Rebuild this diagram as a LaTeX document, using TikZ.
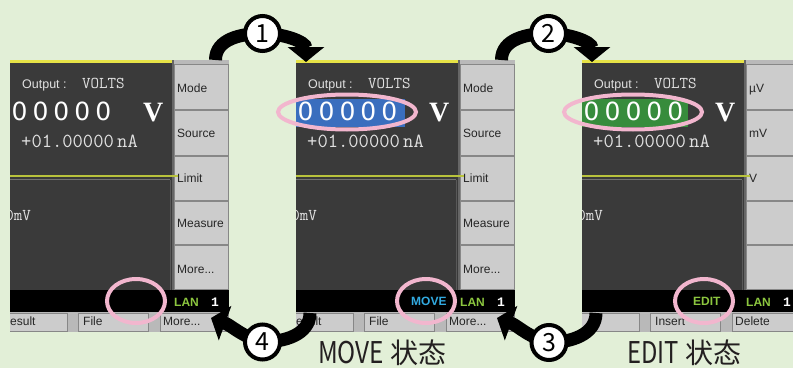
\documentclass[tikz,border=0pt]{standalone}
\usepackage{graphicx}
\usepackage{fontspec}
\setmainfont{Liberation Sans}
\newfontfamily\monob{Liberation Mono}
\newfontfamily\seriff{Liberation Serif}
\newfontfamily\dejav{DejaVu Sans}
\newfontfamily\cjk{Noto Sans CJK SC}
\usetikzlibrary{arrows.meta}

\definecolor{bg}{RGB}{226,239,215}
\definecolor{scr}{RGB}{58,58,58}
\definecolor{ylw}{RGB}{230,226,70}
\definecolor{ylg}{RGB}{185,195,60}
\definecolor{keyg}{RGB}{204,204,204}
\definecolor{keycol}{RGB}{185,185,185}
\definecolor{keyd}{RGB}{135,135,135}
\definecolor{lang}{RGB}{140,198,63}
\definecolor{movec}{RGB}{50,170,225}
\definecolor{hlblue}{RGB}{58,110,190}
\definecolor{hlgreen}{RGB}{55,140,60}
\definecolor{pinkr}{RGB}{242,182,206}
\definecolor{txtg}{RGB}{225,225,225}
\definecolor{labc}{RGB}{35,31,32}

\tikzset{
  lbl/.style={inner sep=0pt, anchor=base west},
  keytxt/.style={lbl, font=\fontsize{12}{12}\selectfont, text=black!85},
  mono/.style={lbl, font=\ttfamily\fontsize{16.5}{16.5}\selectfont, text=txtg},
  ring/.style={draw=pinkr, line width=4pt},
  bigarrow/.style={line width=13pt, -{Triangle[width=36pt,length=15pt]}},
  numcirc/.style={circle, draw=black, line width=4pt, fill=white, minimum size=35pt,
    inner sep=0pt, font=\cjk\fontsize{25}{25}\selectfont},
  keybox/.style={fill=keyg, draw=keyd, line width=0.8pt},
  btnbox/.style={fill=keyg, draw=keyd, line width=0.8pt},
  bigdig/.style={lbl, font=\dejav\fontsize{25}{25}\selectfont, text=white},
  stat/.style={lbl, font=\bfseries\fontsize{12}{12}\selectfont},
  caption/.style={lbl, font=\cjk\fontsize{28}{28}\selectfont, text=labc},
}

% #1 prefix, #2-#6 softkey labels, #7-#9 button labels
\newcommand\ScreenBase[9]{%
  \fill[scr] (10,78) rectangle (172,308);
  \fill[ylw] (10,305) rectangle (172,308);
  \fill[keycol] (172,78) rectangle (229,308);
  \foreach \ya/\yb in {304/258, 258/212, 212/167, 167/123, 123/78}
    \draw[keybox] (174,\yb+0.5) rectangle (228,\ya-0.5);
  \draw[black!60, line width=1.5pt] (172.75,78) -- (172.75,308);
  \node[keytxt] (#1k1) at (177,276) {#2};
  \node[keytxt] (#1k2) at (177,231) {#3};
  \node[keytxt] (#1k3) at (177,186) {#4};
  \node[keytxt] (#1k4) at (177,141) {#5};
  \node[keytxt] (#1k5) at (177,95) {#6};
  \draw[ylg, line width=1.6pt] (10,192) -- (178,192);
  \draw[black!55, line width=1.5pt] (10,188.5) -- (170,188.5);
  \draw[black!65, line width=1pt] (170.5,78) -- (170.5,188);
  \node[lbl, font=\fontsize{12.5}{12.5}\selectfont, text=txtg] (#1out) at (22,280) {Output :};
  \node[mono] (#1volts) at (82,280) {VOLTS};
  \node[lbl, font=\seriff\bfseries\fontsize{28}{28}\selectfont, text=white] (#1v) at (143,247) {V};
  \node[lbl, font=\ttfamily\fontsize{20}{20}\selectfont, text=txtg] (#1na) at (21,221) {+01.00000\,nA};
  \node[mono, anchor=base east] (#1mv) at (31,148) {0mV};
  \fill[black] (10,56) rectangle (229,78);
  \node[stat, text=lang] (#1lan) at (174,62) {LAN};
  \node[lbl, font=\monob\bfseries\fontsize{13}{13}\selectfont, text=white] (#1one) at (211,62) {1};
  \fill[keycol] (10,36) rectangle (229,56);
  \draw[btnbox] (0,37) rectangle (67,55);
  \draw[btnbox] (78,37) rectangle (148,55);
  \draw[btnbox] (160,37) rectangle (228,55);
  \node[keytxt] (#1b1) at (1.3,43) {#7};
  \node[keytxt] (#1b2) at (83,43) {#8};
  \node[keytxt] (#1b3) at (163,43) {#9};
}
\newcommand\BigDigits[1]{%
  \node[bigdig] (#1dig) at (11.5,248) {0\kern5pt0\kern5pt0\kern5pt0\kern5pt0};}

\begin{document}
\begin{tikzpicture}[x=1pt,y=1pt]
\useasboundingbox (0,0) rectangle (793,368);
\fill[bg] (0,0) rectangle (793,368);

% screen 1
\begin{scope}
  \clip (10,36) rectangle (229,308);
  \ScreenBase{sa}{Mode}{Source}{Limit}{Measure}{More...}{Result}{File}{More...}
  \BigDigits{sa}
\end{scope}
% screen 2
\begin{scope}[shift={(286,0)}]
  \clip (10,36) rectangle (229,308);
  \ScreenBase{sb}{Mode}{Source}{Limit}{Measure}{More...}{Result}{File}{More...}
  \fill[hlblue] (10,241) rectangle (119,269);
  \BigDigits{sb}
  \node[stat, text=movec] (sbmove) at (125,63) {MOVE};
\end{scope}
% screen 3
\begin{scope}[shift={(572,0)}]
  \clip (10,36) rectangle (221,308);
  \ScreenBase{sc}{µV}{mV}{V}{}{}{}{Insert}{Delete}
  \fill[hlgreen] (10,241) rectangle (116,269);
  \BigDigits{sc}
  \node[stat, text=lang] (scedit) at (121,63) {EDIT};
\end{scope}

% pink rings
\draw[ring] (136,67) ellipse [x radius=29, y radius=22];
\draw[ring] (347,256) ellipse [x radius=69, y radius=17.5];
\draw[ring] (426,67) ellipse [x radius=29, y radius=22];
\draw[ring] (633,256) ellipse [x radius=69, y radius=17.5];
\draw[ring] (704,67) ellipse [x radius=29, y radius=22];

% arrows
\coordinate (a1s) at (215.5,308);
\coordinate (c1p) at (262.5,334.5);
\coordinate (a1e) at (306,306);
\coordinate (a2s) at (501.5,308);
\coordinate (c2p) at (548.5,334.5);
\coordinate (a2e) at (592,306);
\coordinate (a3s) at (596,55);
\coordinate (c3p) at (549,25.5);
\coordinate (a3e) at (497,50);
\coordinate (a4s) at (310,55);
\coordinate (c4p) at (262.5,26);
\coordinate (a4e) at (211,50);

\draw[bigarrow] (a1s) to[out=90,in=180] (c1p) to[out=0,in=90] (a1e);
\draw[bigarrow] (a2s) to[out=90,in=180] (c2p) to[out=0,in=90] (a2e);
\draw[bigarrow] (a3s) to[out=-90,in=0] (c3p) to[out=165,in=-20] (a3e);
\draw[bigarrow] (a4s) to[out=-90,in=0] (c4p) to[out=165,in=-20] (a4e);

\node[numcirc] (c1) at (c1p) {1};
\node[numcirc] (c2) at (c2p) {2};
\node[numcirc] (c3) at (c3p) {3};
\node[numcirc] (c4) at (c4p) {4};

% labels
\node[caption] (movel) at (318,4.5) {\scalebox{0.87}[1.07]{MOVE} 状态};
\node[caption] (editl) at (627,4.5) {\scalebox{0.85}[1.07]{EDIT} 状态};
\end{tikzpicture}
\end{document}
